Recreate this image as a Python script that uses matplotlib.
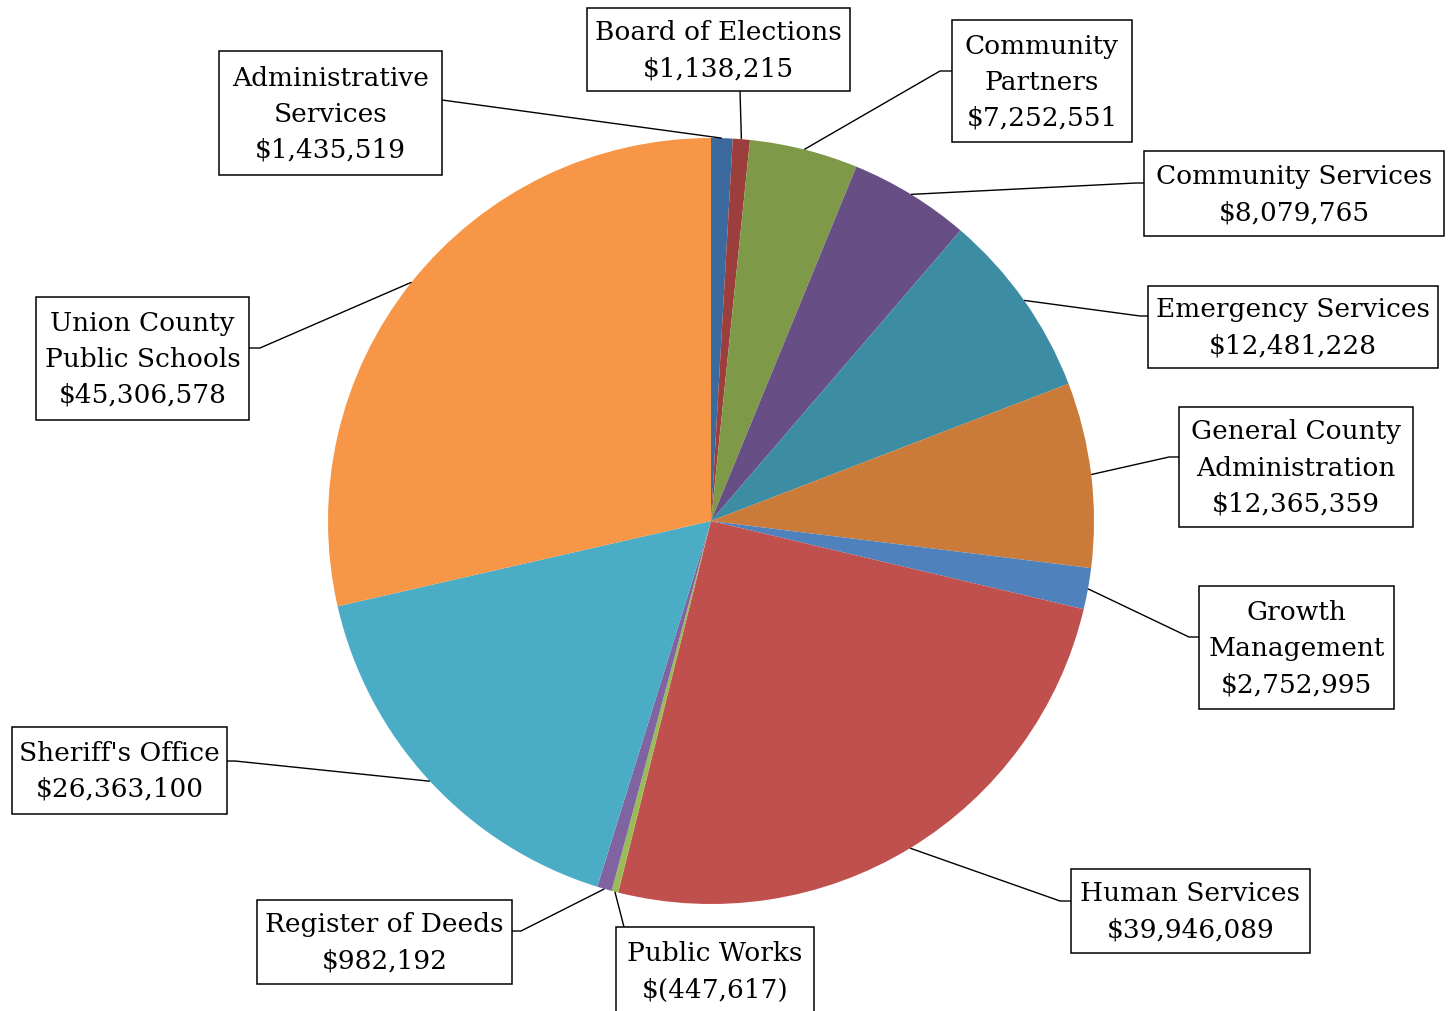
import matplotlib.pyplot as plt
from matplotlib.patches import Rectangle
import numpy as np

W, H = 1448, 1012

departments = ["Administrative\nServices", "Board of Elections", "Community\nPartners",
               "Community Services", "Emergency Services", "General County\nAdministration",
               "Growth\nManagement", "Human Services", "Public Works", "Register of Deeds",
               "Sheriff's Office", "Union County\nPublic Schools"]
amounts = [1435519, 1138215, 7252551, 8079765, 12481228, 12365359,
           2752995, 39946089, -447617, 982192, 26363100, 45306578]
colors = ["#3d6a9e", "#9c3e3b", "#7e9a48", "#674f86", "#3c8da3", "#cb7b39",
          "#4f81bd", "#c0504d", "#9bbb59", "#8064a2", "#4bacc6", "#f79646"]

# label boxes in pixels from top-left: (x0, y0, x1, y1), line end on box, elbow point
boxes = [(219, 52, 442, 176), (587, 9, 850, 92), (952, 21, 1132, 143),
         (1144, 152, 1444, 237), (1148, 287, 1438, 369), (1179, 408, 1413, 528),
         (1199, 587, 1394, 710), (1071, 870, 1310, 954), (616, 928, 814, 1016),
         (257, 901, 512, 985), (12, 728, 227, 815), (36, 298, 249, 421)]
ends = [(442, 101), (740, 92), (952, 72), (1144, 184), (1148, 317), (1179, 458),
        (1199, 638), (1071, 902), (624, 928), (512, 932), (227, 762), (249, 349)]
elbows = [None, None, (940, 72), (1136, 184), (1140, 317), (1169, 458),
          (1189, 638), (1060, 902), None, (521, 932), (235, 762), (260, 349)]


def money(v):
    s = f"{abs(v):,}"
    return f"$({s})" if v < 0 else f"${s}"


def px(x, y):
    return x, H - y


fig = plt.figure(figsize=(W / 100, H / 100), dpi=100)
ax = fig.add_axes([0, 0, 1, 1])

cx, cy = px(711, 522)
R = 383
wedges, _ = ax.pie(np.abs(amounts), colors=colors, startangle=90, counterclock=False,
                   center=(cx, cy), radius=R, wedgeprops=dict(linewidth=0))

ax.set_xlim(0, W)
ax.set_ylim(0, H)
ax.set_aspect("equal")
ax.axis("off")

for w, name, val, box, end, elb in zip(wedges, departments, amounts, boxes, ends, elbows):
    mid = np.deg2rad((w.theta1 + w.theta2) / 2)
    ax0 = cx + R * np.cos(mid)
    ay0 = cy + R * np.sin(mid)
    pts = [(ax0, ay0)]
    if elb is not None:
        pts.append(px(*elb))
    pts.append(px(*end))
    xs, ys = zip(*pts)
    ax.plot(xs, ys, color="black", lw=1.0, solid_capstyle="butt", zorder=3)

    x0, y0, x1, y1 = box
    ax.add_patch(Rectangle(px(x0, y1), x1 - x0, y1 - y0, facecolor="white",
                           edgecolor="black", lw=1.1, zorder=4, clip_on=False))
    tx, ty = px((x0 + x1) / 2, (y0 + y1) / 2)
    if name == "Public Works":
        ty = H - 972
    ax.text(tx, ty, f"{name}\n{money(val)}", ha="center", va="center", ma="center",
            fontsize=19, family="DejaVu Serif", linespacing=1.55, zorder=5)

plt.savefig("out.png", dpi=100)
